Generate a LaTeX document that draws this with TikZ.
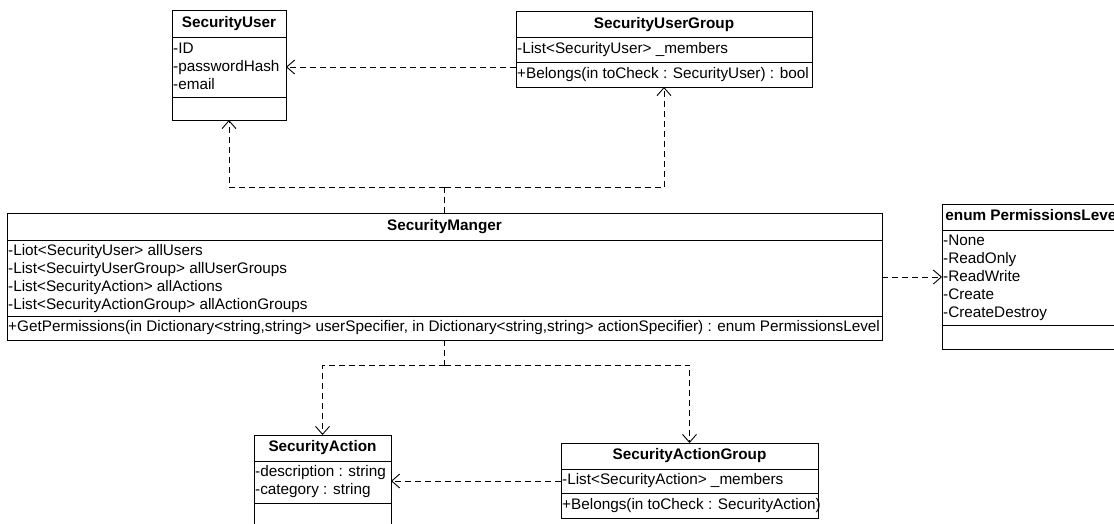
\documentclass[tikz,border=0pt]{standalone}
\usepackage{fontspec}
\setmainfont{Liberation Sans}
\usetikzlibrary{arrows.meta}
\begin{document}
\begin{tikzpicture}[x=1pt,y=-1pt,
  every node/.style={font=\fontsize{15.3}{18}\selectfont},
  clsbox/.style={draw, line width=1pt, inner sep=0pt, outer sep=0pt, anchor=north west},
  divider/.style={line width=1pt},
  ttl/.style={font=\fontsize{15.3}{18}\selectfont\bfseries, inner sep=0pt, text height=11pt, text depth=3.5pt, anchor=center},
  txt/.style={inner sep=0pt, text height=11pt, text depth=3.5pt, anchor=west},
  depline/.style={line width=0.9pt, dash pattern=on 6pt off 4pt},
  dep/.style={depline, -{Straight Barb[length=8pt, width=14pt, line width=0.9pt]}}
]
\path[use as bounding box] (0,0) rectangle (1114,523);
\fill[white] (0,0) rectangle (1114,523);
\clip (0,0) rectangle (1114,523);

% SecurityUser
\node[clsbox, minimum width=114pt, minimum height=110pt] (su) at (172,10) {};
\draw[divider] (su.west |- 0,37) -- (su.east |- 0,37);
\draw[divider] (su.west |- 0,97.5) -- (su.east |- 0,97.5);
\node[ttl] (su-t) at (229,23.5) {SecurityUser};
\node[txt] (su-a1) at (173,49.25) {-ID};
\node[txt] (su-a2) at (173,67.25) {-passwordHash};
\node[txt] (su-a3) at (173,85.25) {-email};

% SecurityUserGroup
\node[clsbox, minimum width=296pt, minimum height=76pt] (sug) at (516,11) {};
\draw[divider] (sug.west |- 0,37.5) -- (sug.east |- 0,37.5);
\draw[divider] (sug.west |- 0,62) -- (sug.east |- 0,62);
\node[ttl] (sug-t) at (664,24.25) {SecurityUserGroup};
\node[txt] (sug-a1) at (517,49.75) {-List<SecurityUser> \_members};
\node[txt] (sug-m1) at (517,74.5) {+Belongs(in toCheck : SecurityUser) : bool};

% SecurityManger
\node[clsbox, minimum width=875pt, minimum height=127pt] (sm) at (7,213) {};
\draw[divider] (sm.west |- 0,240) -- (sm.east |- 0,240);
\draw[divider] (sm.west |- 0,316) -- (sm.east |- 0,316);
\node[ttl] (sm-t) at (444.5,226.5) {SecurityManger};
\node[txt] (sm-a1) at (8,251.5) {-Liot<SecurityUser> allUsers};
\node[txt] (sm-a2) at (8,269.5) {-List<SecuirtyUserGroup> allUserGroups};
\node[txt] (sm-a3) at (8,287.5) {-List<SecurityAction> allActions};
\node[txt] (sm-a4) at (8,305.5) {-List<SecurityActionGroup> allActionGroups};
\node[txt] (sm-m1) at (8,328) {+GetPermissions(in Dictionary<string,string> userSpecifier, in Dictionary<string,string> actionSpecifier) : enum PermissionsLevel};

% enum PermissionsLevel
\node[clsbox, minimum width=182pt, minimum height=145pt] (pl) at (942,204) {};
\draw[divider] (pl.west |- 0,230) -- (pl.east |- 0,230);
\draw[divider] (pl.west |- 0,325) -- (pl.east |- 0,325);
\node[ttl] (pl-t) at (1033,217) {enum PermissionsLevel};
\node[txt] (pl-a1) at (943,242) {-None};
\node[txt] (pl-a2) at (943,260) {-ReadOnly};
\node[txt] (pl-a3) at (943,278) {-ReadWrite};
\node[txt] (pl-a4) at (943,296) {-Create};
\node[txt] (pl-a5) at (943,314) {-CreateDestroy};

% SecurityAction
\node[clsbox, minimum width=137pt, minimum height=100pt] (sa) at (254,435) {};
\draw[divider] (sa.west |- 0,461) -- (sa.east |- 0,461);
\draw[divider] (sa.west |- 0,503) -- (sa.east |- 0,503);
\node[ttl] (sa-t) at (322.5,448) {SecurityAction};
\node[txt] (sa-a1) at (255,473) {-description : string};
\node[txt] (sa-a2) at (255,491) {-category : string};

% SecurityActionGroup
\node[clsbox, minimum width=257pt, minimum height=75pt] (sag) at (561,443) {};
\draw[divider] (sag.west |- 0,469) -- (sag.east |- 0,469);
\draw[divider] (sag.west |- 0,493.5) -- (sag.east |- 0,493.5);
\node[ttl] (sag-t) at (689.5,456) {SecurityActionGroup};
\node[txt] (sag-a1) at (562,481) {-List<SecurityAction> \_members};
\node[txt] (sag-m1) at (562,506) {+Belongs(in toCheck : SecurityAction)};

% connectors
\coordinate (smtop) at (444.5,187);
\coordinate (smbot) at (444.5,365);
\draw[depline] (sm.north) -- (smtop);
\draw[dep] (smtop) -| (su.south);
\draw[dep] (smtop) -| (sug.south);
\draw[depline] (sm.south) -- (smbot);
\draw[dep] (smbot) -| (sa.north);
\draw[dep] (smbot) -| (sag.north);
\draw[dep] (sug.west |- 0,67) -- (su.east |- 0,67);
\draw[dep] (sm.east |- 0,277) -- (pl.west |- 0,277);
\draw[dep] (sag.west |- 0,481) -- (sa.east |- 0,481);
\end{tikzpicture}
\end{document}
